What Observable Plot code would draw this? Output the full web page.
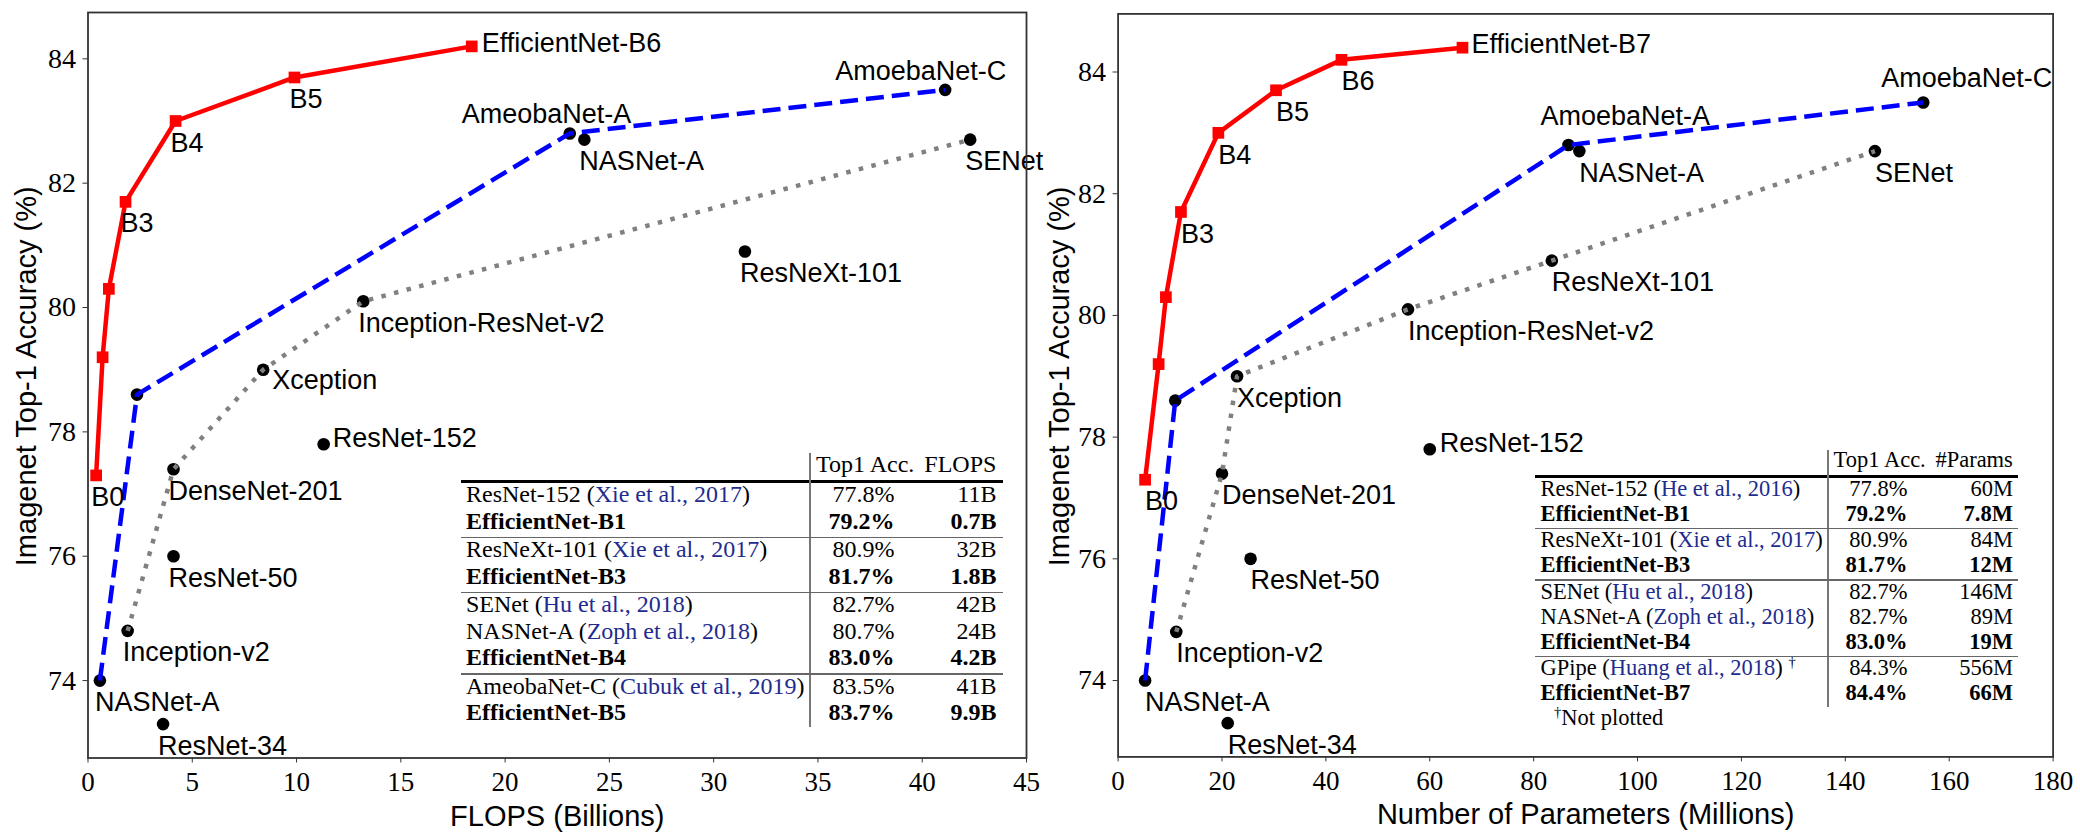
<!DOCTYPE html>
<html>
<head>
<meta charset="utf-8">
<script src="https://cdn.jsdelivr.net/npm/d3@7"></script>
<script src="https://cdn.jsdelivr.net/npm/@observablehq/plot@0.6"></script>
<style>
  html,body{margin:0;padding:0;background:#fff;}
  #wrap{position:relative;width:2080px;height:836px;overflow:hidden;background:#fff;}
  .panel{position:absolute;top:0;}
  .tb{position:absolute;font-family:"Liberation Serif","Times New Roman",serif;color:#000;white-space:nowrap;}
  .cite{color:#1f2c8f;}
  .b{font-weight:bold;}
  sup{font-size:65%;vertical-align:0.55em;line-height:0;}
</style>
</head>
<body>
<div id="wrap"></div>
<script>
// ================= DATA : left panel (FLOPS, billions) =================
const effLabelsL = ["B0", "", "", "B3", "B4", "B5", "EfficientNet-B6"];
const effFlops   = [0.39, 0.70, 1.0, 1.8, 4.2, 9.9, 18.4];
const effAccL    = [77.3, 79.2, 80.3, 81.7, 83.0, 83.7, 84.2];

const nasLabelsL = ["NASNet-A", "", "AmeobaNet-A", "AmoebaNet-C"];
const nasFlops   = [0.57, 2.35, 23.1, 41.1];
const nasAccL    = [74.0, 78.6, 82.8, 83.5];

const handLabelsL = ["Inception-v2", "DenseNet-201", "Xception", "Inception-ResNet-v2", "SENet"];
const handFlops   = [1.9, 4.1, 8.4, 13.2, 42.3];
const handAccL    = [74.8, 77.4, 79.0, 80.1, 82.7];

const otherLabelsL = ["ResNet-34", "ResNet-50", "ResNet-152", "NASNet-A", "ResNeXt-101"];
const otherFlops   = [3.6, 4.1, 11.3, 23.8, 31.5];
const otherAccL    = [73.3, 76.0, 77.8, 82.7, 80.9];

const xTicksL = [0, 5, 10, 15, 20, 25, 30, 35, 40, 45];

// ================= DATA : right panel (parameters, millions) =================
const effLabelsR = ["B0", "", "", "B3", "B4", "B5", "B6", "EfficientNet-B7"];
const effParams  = [5.2, 7.8, 9.2, 12.1, 19.3, 30.4, 43.0, 66.3];
const effAccR    = [77.3, 79.2, 80.3, 81.7, 83.0, 83.7, 84.2, 84.4];

const nasLabelsR = ["NASNet-A", "", "AmoebaNet-A", "AmoebaNet-C"];
const nasParams  = [5.2, 11.0, 86.7, 155.0];
const nasAccR    = [74.0, 78.6, 82.8, 83.5];

const handLabelsR = ["Inception-v2", "DenseNet-201", "Xception", "Inception-ResNet-v2", "ResNeXt-101", "SENet"];
const handParams  = [11.2, 20.0, 22.9, 55.8, 83.5, 145.7];
const handAccR    = [74.8, 77.4, 79.0, 80.1, 80.9, 82.7];

const otherLabelsR = ["ResNet-34", "ResNet-50", "ResNet-152", "NASNet-A"];
const otherParams  = [21.1, 25.5, 60.0, 88.8];
const otherAccR    = [73.3, 76.0, 77.8, 82.7];

const xTicksR = [0, 20, 40, 60, 80, 100, 120, 140, 160, 180];
const yTicks  = [74, 76, 78, 80, 82, 84];

const yTitle  = "Imagenet Top-1 Accuracy (%)";
const xTitleL = "FLOPS (Billions)";
const xTitleR = "Number of Parameters (Millions)";

// ================= DATA : tables =================
const tblModelsL = ["ResNet-152", "EfficientNet-B1", "ResNeXt-101", "EfficientNet-B3", "SENet", "NASNet-A", "EfficientNet-B4", "AmeobaNet-C", "EfficientNet-B5"];
const tblCitesL  = ["Xie et al., 2017", "", "Xie et al., 2017", "", "Hu et al., 2018", "Zoph et al., 2018", "", "Cubuk et al., 2019", ""];
const tblAccL    = ["77.8%", "79.2%", "80.9%", "81.7%", "82.7%", "80.7%", "83.0%", "83.5%", "83.7%"];
const tblValL    = ["11B", "0.7B", "32B", "1.8B", "42B", "24B", "4.2B", "41B", "9.9B"];
const tblGroupL  = [0, 0, 1, 1, 2, 2, 2, 3, 3];

const tblModelsR = ["ResNet-152", "EfficientNet-B1", "ResNeXt-101", "EfficientNet-B3", "SENet", "NASNet-A", "EfficientNet-B4", "GPipe", "EfficientNet-B7"];
const tblCitesR  = ["He et al., 2016", "", "Xie et al., 2017", "", "Hu et al., 2018", "Zoph et al., 2018", "", "Huang et al., 2018", ""];
const tblAccR    = ["77.8%", "79.2%", "80.9%", "81.7%", "82.7%", "82.7%", "83.0%", "84.3%", "84.4%"];
const tblValR    = ["60M", "7.8M", "84M", "12M", "146M", "89M", "19M", "556M", "66M"];
const tblGroupR  = [0, 0, 1, 1, 2, 2, 2, 3, 3];
const tblDaggerR = ["", "", "", "", "", "", "", "†", ""];
const tblNoteR   = "Not plotted";

// ================= helpers =================
const SANS = "Liberation Sans, Arial, Helvetica, sans-serif";
const SERIF = "Liberation Serif, Times New Roman, serif";
const zipRows = (labels, xs, ys) => xs.map((x, i) => ({label: labels[i], x, y: ys[i]}));

function labelMarks(rows, overrides, def) {
  const groups = new Map();
  for (const r of rows) {
    if (!r.label) continue;
    const o = overrides[r.label] || def;
    const k = o.join(",");
    if (!groups.has(k)) groups.set(k, {o, rows: []});
    groups.get(k).rows.push(r);
  }
  return [...groups.values()].map(({o, rows}) =>
    Plot.text(rows, {x: "x", y: "y", text: "label", dx: o[0], dy: o[1],
      textAnchor: "start", lineAnchor: "middle", fontSize: 27, fill: "#000", fontFamily: SANS}));
}

function panel(cfg) {
  const eff = zipRows(cfg.effLabels, cfg.effX, cfg.effY);
  const nas = zipRows(cfg.nasLabels, cfg.nasX, cfg.nasY);
  const hand = zipRows(cfg.handLabels, cfg.handX, cfg.handY);
  const other = zipRows(cfg.otherLabels, cfg.otherX, cfg.otherY);
  const black = [...nas, ...hand, ...other];
  return Plot.plot({
    width: 1040, height: 836,
    marginLeft: cfg.ml, marginRight: cfg.mr, marginTop: cfg.mt, marginBottom: cfg.mb,
    x: {domain: cfg.xDomain},
    y: {domain: cfg.yDomain},
    style: {fontFamily: SANS, fontSize: "27px", background: "transparent", overflow: "visible", color: "#000"},
    marks: [
      Plot.axisX({ticks: cfg.xTicks, tickSize: 5, tickPadding: 9, fontSize: 27, fontFamily: SERIF, label: null, tickFormat: d => String(d), stroke: "#333"}),
      Plot.axisY({ticks: yTicks, tickSize: 5, tickPadding: 7, fontSize: 28, fontFamily: SERIF, label: null, tickFormat: d => String(d), stroke: "#333"}),
      Plot.dot(black, {x: "x", y: "y", r: 6.3, fill: "#000", stroke: "none"}),
      Plot.line(hand, {x: "x", y: "y", stroke: "#808080", strokeWidth: 4.5, strokeDasharray: "4.5,8.5", strokeLinecap: "butt"}),
      Plot.line(nas, {x: "x", y: "y", stroke: "#0000ff", strokeWidth: 4.5, strokeDasharray: "18,8", strokeLinecap: "butt"}),
      Plot.line(eff, {x: "x", y: "y", stroke: "#ff0000", strokeWidth: 4.5}),
      Plot.dot(eff, {x: "x", y: "y", symbol: "square", r: 6.6, fill: "#ff0000", stroke: "none"}),
      ...labelMarks([...eff, ...nas, ...hand, ...other], cfg.labelOffsets, cfg.defOffset),
      Plot.text([cfg.xTitle], {text: d => d, frameAnchor: "bottom", textAnchor: "middle", lineAnchor: "top", dy: cfg.xTitleDy, fontSize: 29, fontFamily: SANS, fill: "#000"}),
      Plot.text([yTitle], {text: d => d, frameAnchor: "left", textAnchor: "middle", rotate: -90, lineAnchor: "bottom", dx: cfg.yTitleDx, dy: -9, fontSize: 29, fontFamily: SANS, fill: "#000"}),
      Plot.frame({stroke: "#333", strokeWidth: 1.8})
    ]
  });
}

function el(parent, cls, css, html) {
  const d = document.createElement("div");
  d.className = cls;
  Object.assign(d.style, css);
  if (html !== undefined) d.innerHTML = html;
  parent.appendChild(d);
  return d;
}

function buildTable(parent, L, T) {
  const px = v => v + "px";
  const hTop = L.hdrTop, hH = L.ruleY - 1.5 - L.hdrTop;
  el(parent, "tb", {left: px(L.hdrX), top: px(hTop - 2), height: px(hH), lineHeight: px(hH), fontSize: px(L.fs)}, "Top1 Acc.");
  el(parent, "tb", {left: px(L.accR), width: px(L.valR - L.accR), textAlign: "right", top: px(hTop - 2), height: px(hH), lineHeight: px(hH), fontSize: px(L.fs)}, T.valHeader);
  el(parent, "", {position: "absolute", left: px(L.x0), width: px(L.x1 - L.x0), top: px(L.ruleY - 1.5), height: "3px", background: "#000"});
  el(parent, "", {position: "absolute", left: px(L.split - 0.75), width: "1.5px", top: px(L.hdrTop), height: px(L.vBottom - L.hdrTop), background: "#777"});
  let y = L.ruleY + 1.5;
  T.models.forEach((m, i) => {
    if (i > 0 && T.groups[i] !== T.groups[i - 1]) {
      el(parent, "", {position: "absolute", left: px(L.x0), width: px(L.x1 - L.x0), top: px(y), height: "1.6px", background: "#666"});
      y += 1.5;
    }
    const bold = m.startsWith("EfficientNet");
    const cls = "tb" + (bold ? " b" : "");
    const base = {top: px(y - 2), height: px(L.rowH), lineHeight: px(L.rowH), fontSize: px(L.fs)};
    let name = m;
    if (T.cites[i]) name += ' (<span class="cite">' + T.cites[i] + '</span>)';
    if (T.daggers && T.daggers[i]) name += ' <sup>' + T.daggers[i] + '</sup>';
    el(parent, cls, Object.assign({left: px(L.nameX)}, base), name);
    el(parent, cls, Object.assign({left: px(L.split), width: px(L.accR - L.split), textAlign: "right"}, base), T.accs[i]);
    el(parent, cls, Object.assign({left: px(L.accR), width: px(L.valR - L.accR), textAlign: "right"}, base), T.vals[i]);
    y += L.rowH;
  });
  if (T.note) {
    el(parent, "tb", {left: px(L.noteX), top: px(y - 2), height: px(L.rowH), lineHeight: px(L.rowH), fontSize: px(L.fs)}, '<sup>†</sup>' + T.note);
  }
}

// ================= render =================
const wrap = document.getElementById("wrap");

const left = panel({
  effLabels: effLabelsL, effX: effFlops, effY: effAccL,
  nasLabels: nasLabelsL, nasX: nasFlops, nasY: nasAccL,
  handLabels: handLabelsL, handX: handFlops, handY: handAccL,
  otherLabels: otherLabelsL, otherX: otherFlops, otherY: otherAccL,
  xTicks: xTicksL, xDomain: [0, 45], yDomain: [72.755, 84.745],
  ml: 87.5, mr: 14, mt: 12, mb: 78.5,
  xTitle: xTitleL, xTitleDy: 47.5, yTitleDx: -52.5,
  defOffset: [-5, 22],
  labelOffsets: {
    "EfficientNet-B6": [10, -3],
    "AmeobaNet-A": [-108, -19],
    "AmoebaNet-C": [-110, -19],
    "Xception": [9, 11],
    "ResNet-152": [9, -6]
  }
});
left.classList.add("panel");
left.style.left = "0px";
wrap.appendChild(left);

const right = panel({
  effLabels: effLabelsR, effX: effParams, effY: effAccR,
  nasLabels: nasLabelsR, nasX: nasParams, nasY: nasAccR,
  handLabels: handLabelsR, handX: handParams, handY: handAccR,
  otherLabels: otherLabelsR, otherX: otherParams, otherY: otherAccR,
  xTicks: xTicksR, xDomain: [0, 180], yDomain: [72.745, 84.955],
  ml: 77.6, mr: 27.4, mt: 13.4, mb: 79.6,
  xTitle: xTitleR, xTitleDy: 47, yTitleDx: -49.6,
  defOffset: [0, 22],
  labelOffsets: {
    "EfficientNet-B7": [9, -3],
    "AmoebaNet-A": [-28, -29],
    "AmoebaNet-C": [-42, -24],
    "ResNet-152": [10, -6]
  }
});
right.classList.add("panel");
right.style.left = "1040px";
wrap.appendChild(right);

buildTable(wrap,
  {x0: 460.7, x1: 1002.9, split: 810, accR: 894.6, valR: 996.4, hdrTop: 453.3, ruleY: 481.7, rowH: 26.7, fs: 24, vBottom: 726.7, nameX: 466, hdrX: 816},
  {models: tblModelsL, cites: tblCitesL, accs: tblAccL, vals: tblValL, groups: tblGroupL, valHeader: "FLOPS"});

buildTable(wrap,
  {x0: 1535, x1: 2018.2, split: 1827.9, accR: 1907.5, valR: 2012.9, hdrTop: 450, ruleY: 476, rowH: 25, fs: 22.5, vBottom: 707.3, nameX: 1540.4, hdrX: 1833.6, noteX: 1554},
  {models: tblModelsR, cites: tblCitesR, accs: tblAccR, vals: tblValR, groups: tblGroupR, daggers: tblDaggerR, valHeader: "#Params", note: tblNoteR});
</script>
</body>
</html>
